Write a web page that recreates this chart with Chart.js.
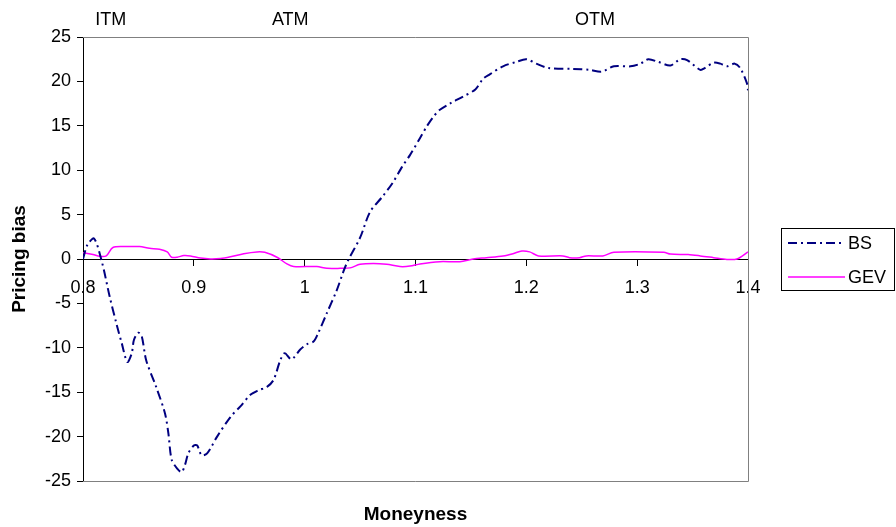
<!DOCTYPE html>
<html>
<head>
<meta charset="utf-8">
<script src="https://cdn.jsdelivr.net/npm/chart.js@4.4.1/dist/chart.umd.min.js"></script>
<style>
html,body{margin:0;padding:0;background:#fff;}
#wrap{width:896px;height:527px;}
</style>
</head>
<body>
<div id="wrap"><canvas id="c" width="896" height="527"></canvas></div>
<script>
// ---- data ----
const bsX = [0.800,0.804,0.810,0.817,0.824,0.830,0.835,0.840,0.844,0.846,0.850,0.853,0.857,0.866,0.874,0.877,0.880,0.885,0.889,0.892,0.895,0.900,0.903,0.907,0.912,0.921,0.933,0.942,0.951,0.958,0.966,0.972,0.978,0.982,0.988,0.996,1.002,1.008,1.012,1.020,1.029,1.035,1.039,1.050,1.059,1.070,1.079,1.088,1.095,1.104,1.110,1.116,1.122,1.131,1.143,1.154,1.161,1.167,1.179,1.191,1.200,1.209,1.220,1.242,1.257,1.268,1.279,1.294,1.303,1.310,1.319,1.330,1.339,1.345,1.357,1.361,1.369,1.375,1.381,1.388,1.393,1.399,1.400];
const bsY = [0.0,1.6,2.3,-0.3,-4.2,-7.2,-9.5,-11.6,-10.6,-9.1,-8.3,-8.7,-11.4,-14.4,-17.4,-19.6,-22.6,-23.6,-24.0,-23.2,-21.9,-21.0,-21.0,-22.1,-21.9,-20.0,-17.8,-16.6,-15.3,-14.8,-14.4,-13.6,-11.4,-10.6,-11.3,-10.2,-9.6,-9.3,-8.4,-6.1,-3.5,-1.4,-0.2,2.4,5.3,7.0,8.5,10.4,11.7,13.6,14.9,16.0,16.8,17.5,18.3,19.1,20.3,20.8,21.7,22.2,22.5,22.0,21.5,21.4,21.3,21.1,21.7,21.7,22.0,22.5,22.2,21.8,22.5,22.4,21.3,21.5,22.1,22.0,21.7,22.0,21.5,19.8,19.0];
const gevX = [0.800,0.809,0.815,0.821,0.827,0.839,0.851,0.860,0.869,0.876,0.880,0.885,0.891,0.897,0.906,0.915,0.924,0.933,0.945,0.957,0.964,0.975,0.984,0.990,1.011,1.020,1.032,1.041,1.050,1.062,1.074,1.086,1.095,1.104,1.122,1.140,1.152,1.164,1.179,1.188,1.196,1.203,1.211,1.233,1.239,1.248,1.254,1.269,1.279,1.324,1.330,1.346,1.357,1.369,1.381,1.390,1.400];
const gevY = [0.7,0.5,0.3,0.35,1.3,1.4,1.4,1.2,1.1,0.8,0.2,0.2,0.4,0.35,0.1,0.0,0.05,0.25,0.6,0.8,0.75,0.2,-0.55,-0.85,-0.85,-1.05,-1.05,-1.0,-0.6,-0.5,-0.6,-0.85,-0.8,-0.55,-0.3,-0.3,0.0,0.15,0.35,0.6,0.9,0.8,0.35,0.35,0.15,0.15,0.35,0.35,0.75,0.75,0.55,0.5,0.35,0.15,-0.05,0.0,0.8];
const seriesNames = ['BS','GEV'];
const zoneLabels = ['ITM','ATM','OTM'];
const zoneX = [0.825, 0.987, 1.262];
const yTicks = [-25,-20,-15,-10,-5,0,5,10,15,20,25];
const xTicks = [0.8,0.9,1.0,1.1,1.2,1.3,1.4];
const xTitle = 'Moneyness';
const yTitle = 'Pricing bias';

const FONT = "'Liberation Sans', Arial, sans-serif";
const BS_COLOR = '#000080';
const GEV_COLOR = '#FF00FF';
const BS_DASH = [9,4,2,4];

const toPts = (xs, ys) => xs.map((x, i) => ({x: x, y: ys[i]}));

const decor = {
  id: 'decor',
  beforeDatasetsDraw(chart) {
    const ctx = chart.ctx, a = chart.chartArea;
    ctx.save();
    ctx.strokeStyle = '#808080';
    ctx.lineWidth = 1;
    ctx.beginPath();
    ctx.moveTo(a.left, a.top + 0.5);
    ctx.lineTo(a.right + 0.5, a.top + 0.5);
    ctx.lineTo(a.right + 0.5, a.bottom + 0.5);
    ctx.lineTo(a.left, a.bottom + 0.5);
    ctx.stroke();
    ctx.restore();
  },
  afterDraw(chart) {
    const ctx = chart.ctx, a = chart.chartArea, xs = chart.scales.x;
    ctx.save();
    ctx.fillStyle = '#000';
    ctx.font = '18px ' + FONT;
    ctx.textAlign = 'center';
    ctx.textBaseline = 'middle';
    zoneLabels.forEach((t, i) => ctx.fillText(t, xs.getPixelForValue(zoneX[i]), 20));
    // axis titles
    ctx.font = 'bold 19px ' + FONT;
    ctx.fillText(xTitle, (a.left + a.right) / 2, 515);
    ctx.save();
    ctx.translate(20, (a.top + a.bottom) / 2);
    ctx.rotate(-Math.PI / 2);
    ctx.fillText(yTitle, 0, 0);
    ctx.restore();
    // legend
    const lx = 781, ly = 228, lw = 114, lh = 62;
    ctx.strokeStyle = '#000';
    ctx.lineWidth = 1;
    ctx.strokeRect(lx + 0.5, ly + 0.5, lw - 1, lh);
    ctx.font = '18px ' + FONT;
    ctx.textAlign = 'left';
    const rows = [
      {name: seriesNames[0], color: BS_COLOR, dash: BS_DASH, w: 2, y: 243},
      {name: seriesNames[1], color: GEV_COLOR, dash: [], w: 1.5, y: 277}
    ];
    rows.forEach(r => {
      ctx.beginPath();
      ctx.setLineDash(r.dash);
      ctx.strokeStyle = r.color;
      ctx.lineWidth = r.w;
      ctx.moveTo(788, r.y);
      ctx.lineTo(845, r.y);
      ctx.stroke();
      ctx.setLineDash([]);
      ctx.fillText(r.name, 848, r.y + 1);
    });
    ctx.restore();
  }
};

new Chart(document.getElementById('c'), {
  type: 'line',
  data: {
    datasets: [
      {label: seriesNames[0], data: toPts(bsX, bsY), borderColor: BS_COLOR, borderWidth: 2, borderDash: BS_DASH, pointRadius: 0, tension: 0.3, fill: false, order: 1},
      {label: seriesNames[1], data: toPts(gevX, gevY), borderColor: GEV_COLOR, borderWidth: 1.5, pointRadius: 0, tension: 0.3, fill: false, order: 2}
    ]
  },
  options: {
    responsive: false,
    animation: false,
    events: [],
    layout: {padding: {left: 0, top: 37, right: 148, bottom: 46}},
    plugins: {legend: {display: false}, tooltip: {enabled: false}},
    scales: {
      x: {
        type: 'linear',
        position: {y: 0},
        min: 0.8, max: 1.4,
        afterBuildTicks: s => { s.ticks = xTicks.map(v => ({value: v})); },
        ticks: {
          color: '#000', font: {family: FONT, size: 18}, padding: 12,
          autoSkip: false, maxRotation: 0,
          callback: v => String(Number(v.toFixed(2)))
        },
        grid: {drawOnChartArea: false, drawTicks: true, tickLength: 6, color: '#000'},
        border: {display: true, color: '#000', width: 1}
      },
      y: {
        type: 'linear',
        min: -25, max: 25,
        afterBuildTicks: s => { s.ticks = yTicks.map(v => ({value: v})); },
        afterFit: s => { s.width = 83; },
        ticks: {color: '#000', font: {family: FONT, size: 18}, padding: 6, autoSkip: false},
        grid: {drawOnChartArea: false, drawTicks: true, tickLength: 6, color: '#000'},
        border: {display: true, color: '#000', width: 1}
      }
    }
  },
  plugins: [decor]
});
</script>
</body>
</html>
